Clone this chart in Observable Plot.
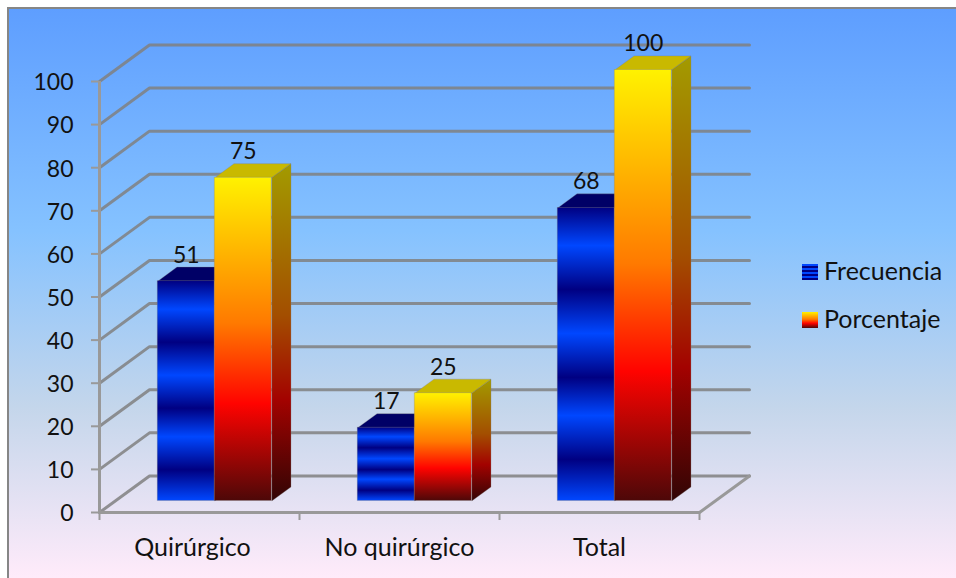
<!DOCTYPE html>
<html lang="es">
<head>
<meta charset="utf-8">
<script src="https://cdn.jsdelivr.net/npm/d3@7"></script>
<script src="https://cdn.jsdelivr.net/npm/@observablehq/plot@0.6"></script>
<style>
  html, body { margin: 0; padding: 0; background: #fff; overflow: hidden; }
  #chart { position: relative; width: 956px; height: 578px; font-family: Lato, sans-serif; color: #111; }
  #panel {
    position: absolute; left: 7px; top: 7px; right: 0; bottom: 0;
    border-left: 2px solid #868686; border-top: 2px solid #868686;
    background: linear-gradient(180deg, #5e9eff 0%, #85c2ff 39%, #c4d6eb 70%, #ffebfa 100%);
  }
  #chart svg { position: absolute; left: 0; top: 0; }
  .key { position: absolute; left: 824px; font-size: 25px; line-height: 26px; white-space: nowrap; }
  .swatch { position: absolute; left: 802px; width: 16px; height: 16px; }
  .swatch.blue { background: repeating-linear-gradient(180deg, #0047ff 0 2px, #000082 2px 4px); }
  .swatch.fire { background: linear-gradient(180deg, #fff200 0%, #ff7a00 45%, #ff0300 70%, #4d0808 100%); }
</style>
</head>
<body>
<div id="chart">
  <div id="panel"></div>
  <span class="swatch blue" style="top:264px"></span>
  <span class="key" style="top:257px">Frecuencia</span>
  <span class="swatch fire" style="top:312px"></span>
  <span class="key" style="top:305px">Porcentaje</span>
</div>
<script>
const categories = ["Quirúrgico", "No quirúrgico", "Total"];
const frecuencia = [51, 17, 68];
const porcentaje = [75, 25, 100];
const yTicks = d3.range(0, 101, 10);
const xTicks = [0, 1, 2, 3];

const sapphireStops = [[0, "#000082"], [0.13, "#0047ff"], [0.28, "#000082"], [0.43, "#0047ff"],
                       [0.58, "#000082"], [0.71, "#0047ff"], [0.86, "#000082"], [1, "#0047ff"]];
const fireStops = [[0, "#fff200"], [0.45, "#ff7a00"], [0.7, "#ff0300"], [1, "#4d0808"]];
const fireSideStops = [[0, "#a39b00"], [0.45, "#a34e00"], [0.7, "#a30200"], [1, "#310505"]];

// Oblique projection: depth d (0 = front plane, 1 = back wall) shifts a point right and up.
const depthX = 0.25;
const depthY = 8.48;
const project = (x, y, d) => ({x: x + depthX * d, y: y + depthY * d});

const barWidth = 0.285;
const groupStart = 0.2125;
const frontDepth = 0.315;
const backDepth = 0.70;

const series = [
  {values: frecuencia, slot: 0, front: "url(#sapphire)", side: "url(#sapphire)", top: "#000066"},
  {values: porcentaje, slot: 1, front: "url(#fire)", side: "url(#fireSide)", top: "#c9b900"}
];

const bars = series.flatMap(s => s.values.map((v, i) => ({
  ...s, value: v, group: i, key: `${s.slot}-${i}`,
  x1: i + groupStart + s.slot * barWidth,
  x2: i + groupStart + (s.slot + 1) * barWidth
})));

const topFace = b => [
  [b.x1, b.value, frontDepth], [b.x2, b.value, frontDepth],
  [b.x2, b.value, backDepth], [b.x1, b.value, backDepth], [b.x1, b.value, frontDepth]
].map(([x, y, d]) => ({key: b.key, ...project(x, y, d)}));

const sideFace = b => [
  [b.x2, b.value, frontDepth], [b.x2, b.value, backDepth],
  [b.x2, 0, backDepth], [b.x2, 0, frontDepth], [b.x2, b.value, frontDepth]
].map(([x, y, d]) => ({key: b.key, ...project(x, y, d)}));

// Wall gridlines: up the side wall, then along the back wall.
const gridPaths = yTicks.flatMap(v => [
  {v, ...project(0, v, 0)}, {v, ...project(0, v, 1)}, {v, ...project(3, v, 1)}
]);
const floorEdge = [project(3, 0, 1), project(3, 0, 0), project(0, 0, 0)];

const gradient = (defs, id, stops) => {
  const g = defs.append("linearGradient").attr("id", id)
    .attr("x1", 0).attr("y1", 0).attr("x2", 0).attr("y2", 1);
  for (const [o, c] of stops) g.append("stop").attr("offset", o).attr("stop-color", c);
};

const gradients = () => {
  const defs = d3.create("svg:defs");
  gradient(defs, "sapphire", sapphireStops);
  gradient(defs, "fire", fireStops);
  gradient(defs, "fireSide", fireSideStops);
  return defs.node();
};

const edge = {stroke: "#7f7f7f", strokeWidth: 0.8, strokeOpacity: 0.4};

const seriesMarks = s => {
  const rows = bars.filter(b => b.slot === s.slot);
  return [
    Plot.line(rows.flatMap(topFace), {x: "x", y: "y", z: "key", fill: s.top, ...edge, curve: "linear"}),
    Plot.line(rows.flatMap(sideFace), {x: "x", y: "y", z: "key", fill: s.side, ...edge, curve: "linear"}),
    Plot.rect(rows, {
      x1: b => project(b.x1, 0, frontDepth).x,
      x2: b => project(b.x2, 0, frontDepth).x,
      y1: () => project(0, 0, frontDepth).y,
      y2: b => project(0, b.value, frontDepth).y,
      fill: s.front, ...edge
    })
  ];
};

const labelFont = {fontSize: 23, fill: "#111"};
const categoryFont = {fontSize: 25, fill: "#111"};

const plot = Plot.plot({
  width: 956,
  height: 578,
  marginLeft: 99,
  marginRight: 257,
  marginTop: 81,
  marginBottom: 66,
  style: {background: "transparent", fontFamily: "Lato, sans-serif"},
  x: {domain: [0, 3]},
  y: {domain: [0, 100]},
  marks: [
    gradients,
    Plot.line(gridPaths, {x: "x", y: "y", z: "v", stroke: "#808080", strokeWidth: 3, strokeOpacity: 0.85}),
    Plot.line(floorEdge, {x: "x", y: "y", stroke: "#999", strokeWidth: 3}),
    Plot.axisY({ticks: yTicks, tickSize: 8, tickFormat: () => "", stroke: "#999", strokeWidth: 2, label: null}),
    Plot.axisY({ticks: yTicks, tickSize: 0, tickPadding: 26, dy: 1.5, ...labelFont, label: null}),
    Plot.axisX({ticks: xTicks, tickSize: 8, tickFormat: () => "", stroke: "#999", strokeWidth: 2, label: null}),
    Plot.ruleX([0], {stroke: "#999", strokeWidth: 3}),
    ...series.flatMap(seriesMarks),
    // Value labels above each bar
    Plot.text(bars, {
      x: b => project((b.x1 + b.x2) / 2, 0, frontDepth).x,
      y: b => project(0, b.value, frontDepth).y,
      text: "value", dy: -26, ...labelFont
    }),
    // Category labels below the floor
    Plot.text(categories.slice(0, 1), {x: () => 0.5, y: () => 0, text: d => d, dy: 35, dx: -7, ...categoryFont}),
    Plot.text(categories.slice(1), {x: (d, i) => i + 1.5, y: () => 0, text: d => d, dy: 35, ...categoryFont})
  ]
});

document.getElementById("chart").append(plot);
</script>
</body>
</html>
